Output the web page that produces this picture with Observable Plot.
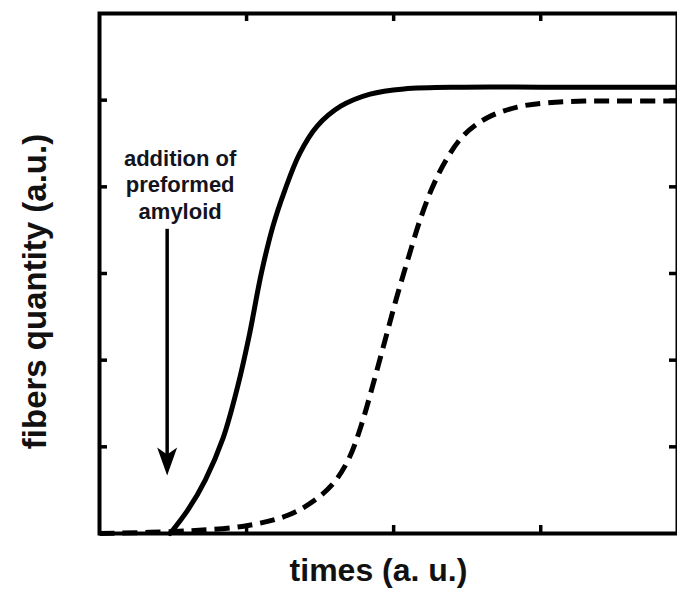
<!DOCTYPE html>
<html>
<head>
<meta charset="utf-8">
<script src="https://cdn.jsdelivr.net/npm/d3@7"></script>
<script src="https://cdn.jsdelivr.net/npm/@observablehq/plot@0.6"></script>
<style>
  html, body { margin: 0; padding: 0; background: #fff; }
  svg { display: block; }
</style>
</head>
<body>
<div id="chart"></div>
<script>
// Seeded growth (preformed amyloid added) — solid curve
const seededTime  = [0.48, 0.60, 0.72, 0.84, 0.94, 1.02, 1.10, 1.18, 1.26, 1.36, 1.48, 1.64, 1.84, 2.07, 2.48, 3.0, 3.5, 4.0];
const seededFiber = [0.0, 0.27, 0.62, 1.10, 1.70, 2.30, 3.00, 3.55, 3.96, 4.38, 4.70, 4.93, 5.07, 5.13, 5.15, 5.15, 5.15, 5.15];

// Unseeded growth — dashed curve
const unseededTime  = [0.0, 0.6, 1.0, 1.28, 1.46, 1.60, 1.70, 1.78, 1.86, 1.94, 2.02, 2.10, 2.18, 2.26, 2.36, 2.48, 2.64, 2.84, 3.05, 3.3, 3.6, 4.0];
const unseededFiber = [0.0, 0.03, 0.09, 0.21, 0.38, 0.60, 0.88, 1.25, 1.72, 2.22, 2.72, 3.18, 3.62, 3.98, 4.32, 4.60, 4.80, 4.92, 4.97, 4.99, 4.99, 4.99];

// Tick positions (unlabelled)
const xTicks = [1, 2, 3];
const yTicks = [1, 2, 3, 4, 5];

// Annotation arrow: time of addition, from / to fiber level
const additionTime = 0.46;
const arrowFrom = 3.51;
const arrowTo = 0.67;
const annotation = "addition of\npreformed\namyloid";

const xLabel = "times (a. u.)";
const yLabel = "fibers quantity (a.u.)";

const seeded = seededTime.map((t, i) => ({t, v: seededFiber[i]}));
const unseeded = unseededTime.map((t, i) => ({t, v: unseededFiber[i]}));

const width = 677, height = 592;
const marginLeft = 99, marginRight = 0, marginTop = 13, marginBottom = 59;
const plotW = width - marginLeft - marginRight;
const plotH = height - marginTop - marginBottom;
const tickLen = 8;
const ink = "#000";
const font = "'Liberation Sans', Arial, sans-serif";

// Filled arrowhead with a notched back; its tip sits on the anchor point
const arrowHead = {
  draw(context) {
    context.moveTo(0, 0);
    context.lineTo(-10, -28);
    context.lineTo(0, -21);
    context.lineTo(10, -28);
    context.closePath();
  }
};

const chart = Plot.plot({
  width, height, marginLeft, marginRight, marginTop, marginBottom,
  style: {fontFamily: font, background: "#fff"},
  x: {domain: [0, 3.93], axis: null},
  y: {domain: [0, 6], axis: null},
  marks: [
    Plot.line(unseeded, {x: "t", y: "v", curve: "catmull-rom", stroke: ink, strokeWidth: 5, strokeDasharray: "15,8", strokeLinecap: "butt"}),
    Plot.line(seeded, {x: "t", y: "v", curve: "catmull-rom", stroke: ink, strokeWidth: 5}),
    Plot.frame({stroke: ink, strokeWidth: 4}),
    // inward ticks on all four sides
    Plot.tickX(xTicks, {x: d => d, insetTop: plotH - tickLen, stroke: ink, strokeWidth: 3.5}),
    Plot.tickX(xTicks, {x: d => d, insetBottom: plotH - tickLen, stroke: ink, strokeWidth: 3.5}),
    Plot.tickY(yTicks, {y: d => d, insetRight: plotW - tickLen, stroke: ink, strokeWidth: 3.5}),
    Plot.tickY(yTicks, {y: d => d, insetLeft: plotW - tickLen, stroke: ink, strokeWidth: 3.5}),
    // annotation arrow: shaft + filled head
    Plot.ruleX([additionTime], {y1: arrowFrom, y2: arrowTo, insetBottom: 12, stroke: ink, strokeWidth: 3.5}),
    Plot.dot([additionTime], {x: d => d, y: arrowTo, symbol: arrowHead, fill: ink, stroke: "none"}),
    Plot.text([annotation], {x: additionTime, y: arrowFrom, dx: 13, dy: -10, lineAnchor: "bottom", lineHeight: 1.22, text: d => d, fontSize: 22, fontWeight: "bold", fill: "#141420", textAnchor: "middle"}),
    Plot.text([xLabel], {frameAnchor: "bottom", dx: -10, dy: 47, text: d => d, fontSize: 32, fontWeight: "bold", fill: "#111", lineAnchor: "bottom", textAnchor: "middle"}),
    Plot.text([yLabel], {frameAnchor: "left", dx: -64, dy: 18, rotate: -90, text: d => d, fontSize: 33, fontWeight: "bold", fill: "#111", lineAnchor: "middle", textAnchor: "middle"})
  ]
});
document.getElementById("chart").appendChild(chart);
</script>
</body>
</html>
